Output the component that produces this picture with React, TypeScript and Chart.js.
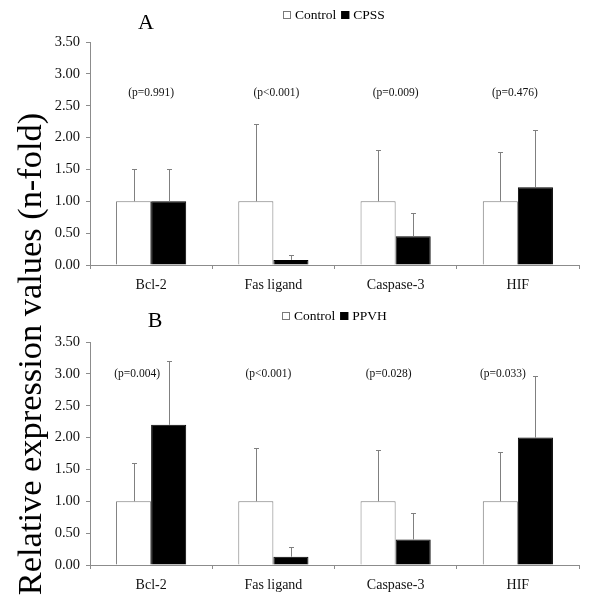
import React, { useEffect, useRef } from "react";
import { Chart, registerables } from "chart.js";

Chart.register(...registerables);

const categories = ["Bcl-2", "Fas ligand", "Caspase-3", "HIF"];

// Panel A
const controlA = [1.0, 1.0, 1.0, 1.0];
const controlSdA = [0.5, 1.22, 0.8, 0.78];
const cpssA = [1.0, 0.08, 0.45, 1.22];
const cpssSdA = [0.5, 0.08, 0.36, 0.9];
const pValuesA = ["(p=0.991)", "(p<0.001)", "(p=0.009)", "(p=0.476)"];

// Panel B
const controlB = [1.0, 1.0, 1.0, 1.0];
const controlSdB = [0.6, 0.83, 0.8, 0.78];
const ppvhB = [2.2, 0.13, 0.4, 2.0];
const ppvhSdB = [1.0, 0.15, 0.42, 0.96];
const pValuesB = ["(p=0.004)", "(p<0.001)", "(p=0.028)", "(p=0.033)"];

const yMin = 0;
const yMax = 3.5;
const yStep = 0.5;

const FONT = "'Liberation Serif', 'Times New Roman', serif";
const AXIS_GRAY = "#8c8c8c";
const ERR_GRAY = "#808080";

type PanelCfg = {
  letter: string;
  letterX: number;
  letterY: number;
  legendX: number;
  legendY: number;
  pValues: string[];
  pValueAt: number;
  pOffsets: number[];
  sds: number[][];
};

const decorPlugin = {
  id: "panelDecor",
  afterDatasetsDraw(chart: any, _args: any, opts: PanelCfg) {
    const ctx = chart.ctx;
    const yScale = chart.scales.y;
    ctx.save();
    // error bars (upper only)
    chart.data.datasets.forEach((ds: any, di: number) => {
      const meta = chart.getDatasetMeta(di);
      meta.data.forEach((bar: any, i: number) => {
        const v = ds.data[i];
        const sd = opts.sds[di][i];
        const yTop = Math.round(yScale.getPixelForValue(v + sd)) + 0.5;
        const x = Math.round(bar.x) + 0.5;
        ctx.strokeStyle = ERR_GRAY;
        ctx.lineWidth = 1;
        ctx.beginPath();
        ctx.moveTo(x, bar.y);
        ctx.lineTo(x, yTop);
        ctx.moveTo(x - 2.5, yTop);
        ctx.lineTo(x + 2.5, yTop);
        ctx.stroke();
      });
    });
    // p-values
    const xScale = chart.scales.x;
    ctx.fillStyle = "#111";
    ctx.font = `11.5px ${FONT}`;
    ctx.textAlign = "center";
    ctx.textBaseline = "middle";
    opts.pValues.forEach((t, i) => {
      const x = xScale.getPixelForValue(i) + opts.pOffsets[i];
      ctx.fillText(t, x, yScale.getPixelForValue(opts.pValueAt));
    });
    // panel letter
    ctx.font = `22px ${FONT}`;
    ctx.fillStyle = "#000";
    ctx.fillText(opts.letter, opts.letterX, opts.letterY);
    // legend
    ctx.font = `13.5px ${FONT}`;
    ctx.textAlign = "left";
    let x = opts.legendX;
    const y = opts.legendY;
    chart.data.datasets.forEach((ds: any, di: number) => {
      ctx.fillStyle = ds.backgroundColor;
      ctx.fillRect(x, y - 4, 8, 8);
      ctx.strokeStyle = ds.borderColor;
      ctx.lineWidth = 1;
      ctx.strokeRect(x + 0.5, y - 3.5, 7, 7);
      x += 12;
      ctx.fillStyle = "#000";
      ctx.fillText(ds.label, x, y);
      x += ctx.measureText(ds.label).width + 5;
    });
    ctx.restore();
  },
};

function Panel(props: {
  height: number;
  xAxisHeight: number;
  labels: [string, string];
  control: number[];
  treated: number[];
  cfg: PanelCfg;
}) {
  const ref = useRef<HTMLCanvasElement | null>(null);
  useEffect(() => {
    if (!ref.current) return;
    const chart = new Chart(ref.current, {
      type: "bar",
      data: {
        labels: categories,
        datasets: [
          {
            label: props.labels[0],
            data: props.control,
            backgroundColor: "#ffffff",
            borderColor: "#7a7a7a",
            borderWidth: 1,
            categoryPercentage: 0.574,
            barPercentage: 1,
          },
          {
            label: props.labels[1],
            data: props.treated,
            backgroundColor: "#000000",
            borderColor: "#000000",
            borderWidth: 1,
            categoryPercentage: 0.574,
            barPercentage: 1,
          },
        ],
      },
      options: {
        responsive: false,
        animation: false,
        devicePixelRatio: 1,
        layout: { padding: { left: 0, right: 21, top: 42, bottom: 0 } },
        plugins: {
          legend: { display: false },
          tooltip: { enabled: false },
          panelDecor: props.cfg,
        } as any,
        scales: {
          x: {
            offset: true,
            grid: {
              offset: true,
              drawOnChartArea: false,
              drawTicks: true,
              tickLength: 4,
              color: AXIS_GRAY,
            },
            border: { color: AXIS_GRAY },
            ticks: {
              font: { family: FONT, size: 14 },
              color: "#111",
              padding: 8,
              maxRotation: 0,
            },
            afterFit: (s: any) => {
              s.height = props.xAxisHeight;
            },
          },
          y: {
            min: yMin,
            max: yMax,
            grid: {
              drawOnChartArea: false,
              drawTicks: true,
              tickLength: 4,
              color: AXIS_GRAY,
            },
            border: { color: AXIS_GRAY },
            ticks: {
              stepSize: yStep,
              font: { family: FONT, size: 14.5 },
              color: "#111",
              padding: 6,
              callback: (v: any) => Number(v).toFixed(2),
            },
            afterFit: (s: any) => {
              s.width = 90;
            },
          },
        },
      },
      plugins: [decorPlugin],
    });
    return () => chart.destroy();
  }, []);
  return (
    <canvas
      ref={ref}
      width={600}
      height={props.height}
      style={{ display: "block", width: 600, height: props.height }}
    />
  );
}

export default function App() {
  return (
    <div
      style={{
        position: "fixed",
        left: 0,
        top: 0,
        width: 600,
        height: 608,
        background: "#fff",
        overflow: "hidden",
      }}
    >
      <div style={{ position: "absolute", left: 0, top: 0 }}>
        <Panel
          height={300}
          xAxisHeight={35}
          labels={["Control", "CPSS"]}
          control={controlA}
          treated={cpssA}
          cfg={{
            letter: "A",
            letterX: 146,
            letterY: 23,
            legendX: 283,
            legendY: 15,
            pValues: pValuesA,
            pValueAt: 2.7,
            pOffsets: [0, 3, 0, -3],
            sds: [controlSdA, cpssSdA],
          }}
        />
      </div>
      <div style={{ position: "absolute", left: 0, top: 300 }}>
        <Panel
          height={308}
          xAxisHeight={43}
          labels={["Control", "PPVH"]}
          control={controlB}
          treated={ppvhB}
          cfg={{
            letter: "B",
            letterX: 155,
            letterY: 21,
            legendX: 282,
            legendY: 16,
            pValues: pValuesB,
            pValueAt: 3.0,
            pOffsets: [-14, -5, -7, -15],
            sds: [controlSdB, ppvhSdB],
          }}
        />
      </div>
      <div
        style={{
          position: "absolute",
          left: 29 - 300,
          top: 354 - 20,
          width: 600,
          height: 40,
          lineHeight: "40px",
          textAlign: "center",
          fontFamily: FONT,
          fontSize: 34.4,
          color: "#000",
          transform: "rotate(-90deg)",
          whiteSpace: "nowrap",
        }}
      >
        Relative expression values (n-fold)
      </div>
    </div>
  );
}
